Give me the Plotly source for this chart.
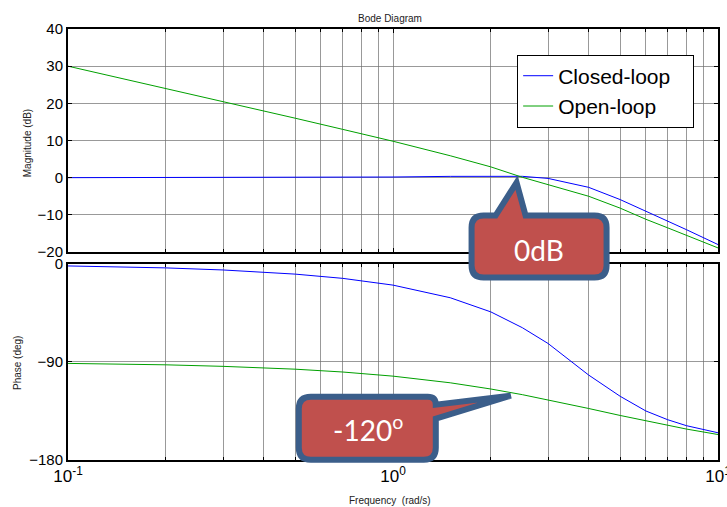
import math
import plotly.graph_objects as go

# ---- data ----
freq = [0.1, 0.15, 0.2, 0.3, 0.4, 0.5, 0.7, 1.0, 1.5, 2.0, 2.5, 3.0, 4.0, 5.0, 6.0, 7.0, 8.0, 10.0]
open_mag = [30.0, 26.5, 24.0, 20.4, 17.9, 16.0, 13.0, 9.8, 5.9, 2.9, 0.1, -1.8, -5.0, -8.2, -11.2, -13.5, -15.5, -18.9]
closed_mag = [0.0, 0.0, 0.01, 0.02, 0.03, 0.05, 0.09, 0.18, 0.35, 0.45, 0.36, -0.2, -2.6, -5.9, -9.0, -11.7, -14.0, -18.0]
open_phase = [-91.3, -92.0, -92.6, -94.0, -95.3, -96.6, -99.2, -103.0, -109.1, -114.8, -120.0, -124.7,
              -132.7, -139.1, -144.2, -148.3, -151.6, -156.6]
closed_phase = [-1.8, -2.7, -3.6, -5.5, -7.3, -9.3, -13.2, -19.4, -31.0, -44.0, -58.5, -73.0,
                -102.0, -121.5, -135.0, -143.0, -148.5, -155.0]

series_names = ["Closed-loop", "Open-loop"]
x_tickvals = [0.1, 1, 10]
x_ticktext = ["10<sup>-1</sup>", "10<sup>0</sup>", "10<sup>1</sup>"]
x_minor = [0.2, 0.3, 0.4, 0.5, 0.6, 0.7, 0.8, 0.9, 2, 3, 4, 5, 6, 7, 8, 9]
mag_ticks = [-20, -10, 0, 10, 20, 30, 40]
phase_ticks = [-180, -90, 0]

# callout anchor points (frequency, value)
callout_mag = (2.4, -0.5)
callout_phase = (2.37, -120.0)

BLUE = "#0000ff"
GREEN = "#00a000"
CALLOUT_FILL = "#c0504d"
CALLOUT_LINE = "#3b5e8a"
GRID = "rgba(110,110,110,0.7)"

X_RANGE = [-1, 1]
MAG_RANGE = [-20, 40]
PH_RANGE = [-180, 0]
MAG_DOM = [0.4826, 1.0]
PH_DOM = [0.0, 0.4548]

PAD = "\u00a0\u00a0\u00a0"

fig = go.Figure()
fig.add_trace(go.Scatter(x=freq, y=closed_mag, mode="lines", name=series_names[0] + PAD,
                         line=dict(color=BLUE, width=1), xaxis="x", yaxis="y"))
fig.add_trace(go.Scatter(x=freq, y=open_mag, mode="lines", name=series_names[1] + PAD,
                         line=dict(color=GREEN, width=1), xaxis="x", yaxis="y"))
fig.add_trace(go.Scatter(x=freq, y=closed_phase, mode="lines", name=series_names[0], showlegend=False,
                         line=dict(color=BLUE, width=1), xaxis="x2", yaxis="y2"))
fig.add_trace(go.Scatter(x=freq, y=open_phase, mode="lines", name=series_names[1], showlegend=False,
                         line=dict(color=GREEN, width=1), xaxis="x2", yaxis="y2"))

common_x = dict(type="log", range=X_RANGE, tickvals=x_tickvals, ticktext=x_ticktext,
                showgrid=True, gridcolor=GRID, gridwidth=1, automargin=False,
                ticklabeloverflow="allow",
                showline=True, linecolor="black", linewidth=2, mirror="ticks",
                ticks="inside", ticklen=4, tickcolor="black", zeroline=False,
                minor=dict(tickvals=x_minor, showgrid=True, gridcolor=GRID, gridwidth=1,
                           ticks="inside", ticklen=3, tickcolor="black"),
                tickfont=dict(family="Arial", size=17, color="black"))
common_y = dict(showgrid=True, gridcolor=GRID, gridwidth=1, zeroline=False, automargin=False,
                ticklabeloverflow="allow",
                showline=True, linecolor="black", linewidth=2, mirror="ticks",
                ticks="inside", ticklen=4, tickcolor="black",
                tickfont=dict(family="Arial", size=15, color="black"))

fig.update_layout(
    width=727, height=507,
    margin=dict(l=68, r=9, t=29, b=47, autoexpand=False),
    paper_bgcolor="white", plot_bgcolor="white",
    xaxis=dict(common_x, domain=[0, 1], anchor="y", showticklabels=False),
    yaxis=dict(common_y, domain=MAG_DOM, range=MAG_RANGE, tickvals=mag_ticks, anchor="x"),
    xaxis2=dict(common_x, domain=[0, 1], anchor="y2", showticklabels=True),
    yaxis2=dict(common_y, domain=PH_DOM, range=PH_RANGE, tickvals=phase_ticks, anchor="x2"),
    showlegend=True,
    legend=dict(x=0.691, y=0.856, xanchor="left", yanchor="middle",
                bgcolor="white", bordercolor="black", borderwidth=1,
                font=dict(family="Arial", size=21, color="black"),
                itemwidth=30, tracegroupgap=0),
    hovermode=False,
)

# axis titles / title
ann_font = dict(family="Arial", size=10, color="#222")
fig.add_annotation(text="Bode Diagram", xref="paper", yref="paper", x=0.496, y=1.0, yshift=11,
                   xanchor="center", yanchor="middle", showarrow=False, font=ann_font)
fig.add_annotation(text="Magnitude (dB)", xref="paper", yref="paper", x=0, xshift=-41, y=0.735,
                   xanchor="center", yanchor="middle", textangle=-90, showarrow=False, font=ann_font)
fig.add_annotation(text="Phase (deg)", xref="paper", yref="paper", x=0, xshift=-51, y=0.225,
                   xanchor="center", yanchor="middle", textangle=-90, showarrow=False, font=ann_font)
fig.add_annotation(text="Frequency  (rad/s)", xref="paper", yref="paper", x=0.496, y=0, yshift=-40,
                   xanchor="center", yanchor="middle", showarrow=False, font=ann_font)


def px_x(f):
    return (math.log10(f) - X_RANGE[0]) / (X_RANGE[1] - X_RANGE[0])


def px_y(v, rng, dom):
    return dom[0] + (v - rng[0]) / (rng[1] - rng[0]) * (dom[1] - dom[0])


r = 12
# callout 1: 0dB (pixel path relative to the tip)
ax1 = px_x(callout_mag[0])
ay1 = px_y(callout_mag[1], MAG_RANGE, MAG_DOM)
L, R, T, B = -45, 90, -36, -98
p1 = (f"M {L+r},{T} L -21,{T} L 0,-3 L 9,{T} L {R-r},{T} Q {R},{T} {R},{T-r} "
      f"L {R},{B+r} Q {R},{B} {R-r},{B} L {L+r},{B} Q {L},{B} {L},{B+r} "
      f"L {L},{T-r} Q {L},{T} {L+r},{T} Z")
fig.add_shape(type="path", xref="paper", yref="paper", xsizemode="pixel", ysizemode="pixel",
              xanchor=ax1, yanchor=ay1, path=p1,
              fillcolor=CALLOUT_FILL, line=dict(color=CALLOUT_LINE, width=6), layer="above")
fig.add_annotation(text="0dB", xref="paper", yref="paper", x=ax1, y=ay1, xshift=22, yshift=-70,
                   xanchor="center", yanchor="middle",
                   showarrow=False, font=dict(family="Lato", size=28, color="white"))

# callout 2: -120 deg
ax2 = px_x(callout_phase[0])
ay2 = px_y(callout_phase[1], PH_RANGE, PH_DOM)
L2, R2, T2, B2 = -216, -79, -2, -65
p2 = (f"M {L2+r},{T2} L {R2-8},{T2} Q {R2},{T2} {R2},{T2-8} L -4,-1 L {R2},-24 "
      f"L {R2},{B2+r} Q {R2},{B2} {R2-r},{B2} L {L2+r},{B2} Q {L2},{B2} {L2},{B2+r} "
      f"L {L2},{T2-r} Q {L2},{T2} {L2+r},{T2} Z")
fig.add_shape(type="path", xref="paper", yref="paper", xsizemode="pixel", ysizemode="pixel",
              xanchor=ax2, yanchor=ay2, path=p2,
              fillcolor=CALLOUT_FILL, line=dict(color=CALLOUT_LINE, width=6), layer="above")
fig.add_annotation(text="-120<sup>o</sup>", xref="paper", yref="paper", x=ax2, y=ay2, xshift=-147, yshift=-34,
                   xanchor="center", yanchor="middle",
                   showarrow=False, font=dict(family="Lato", size=28, color="white"))

fig.write_html("out.html", config={"displayModeBar": False},
               post_script="document.body.style.margin='0';")
